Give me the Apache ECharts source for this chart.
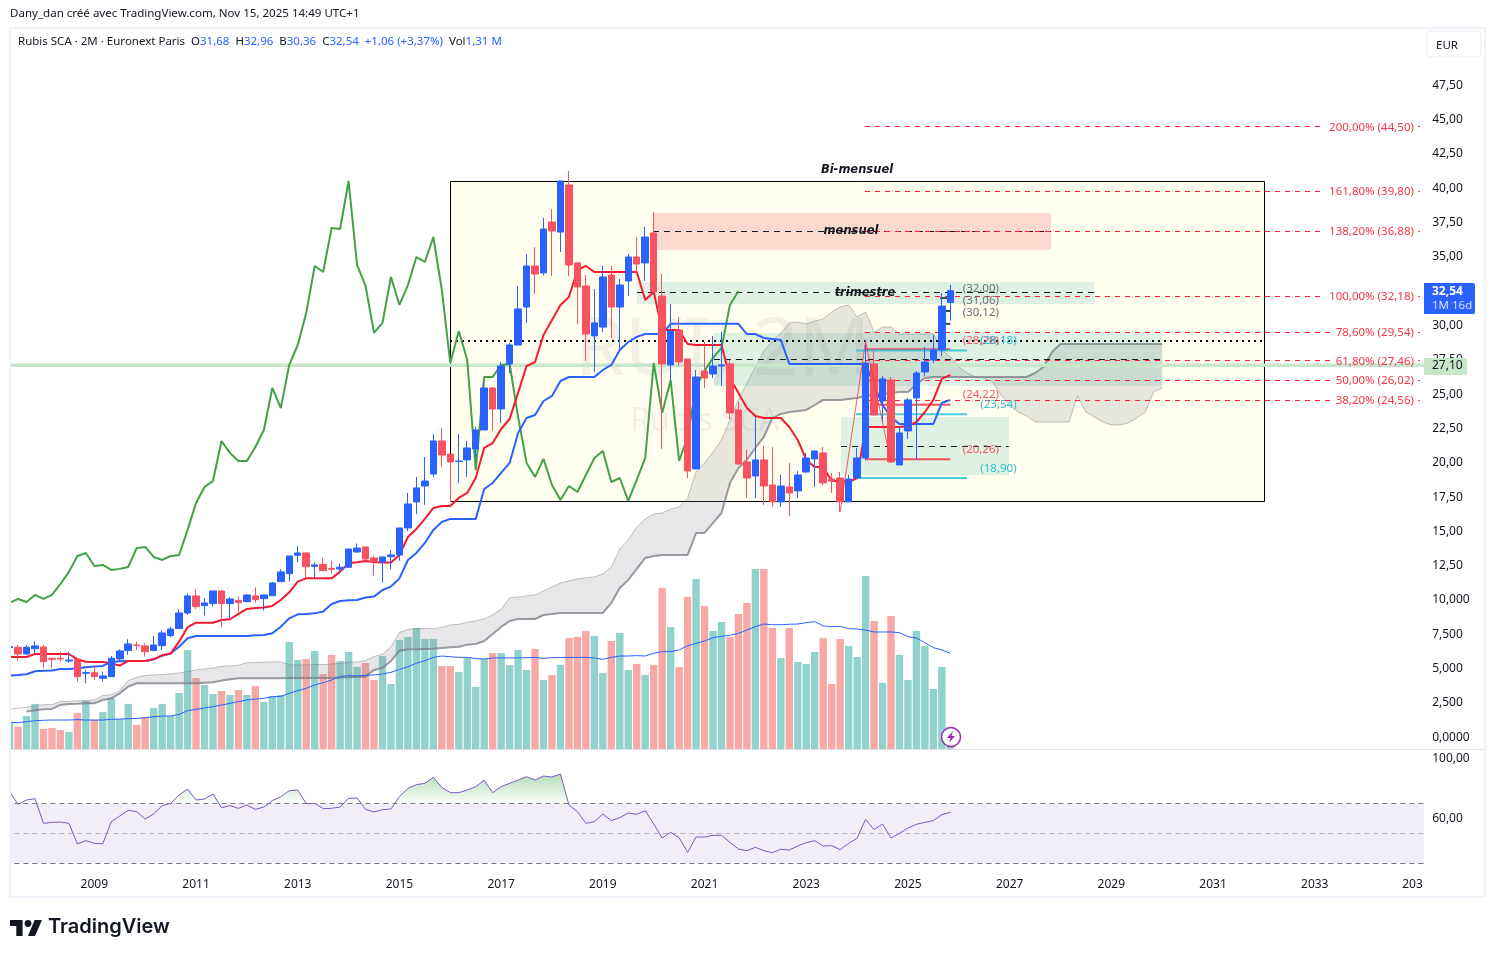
<!DOCTYPE html>
<html><head><meta charset="utf-8">
<style>html,body{margin:0;padding:0;background:#fff}#c{width:1495px;height:958px}</style>
<script src="https://cdn.jsdelivr.net/npm/echarts@6/dist/echarts.min.js"></script>
</head><body><div id="c"></div>
<script>
// ---------- DATA: two-month bars from 2007-05 to 2025-11 ----------
// [open, close, low, high]
const candles = [
[6.53,6.61,6.32,6.85],[6.56,6.07,5.59,6.73],[6.07,6.56,6.00,6.73],[6.46,6.66,6.07,7.00],[6.58,5.51,5.03,6.73],
[5.76,5.68,5.03,5.76],[5.76,5.71,5.51,6.24],[5.56,5.63,5.44,6.24],[5.68,4.42,4.06,5.68],[4.66,4.71,3.94,4.91],
[4.71,4.42,4.18,5.20],[4.30,4.47,4.06,4.79],[4.42,5.76,4.42,5.93],[5.71,6.29,5.51,6.41],[6.32,6.80,6.00,7.14],
[6.73,6.68,6.36,6.97],[6.66,6.24,5.88,6.85],[6.32,6.73,6.32,7.38],[6.68,7.60,6.36,7.82],[7.41,7.89,7.29,8.06],
[7.92,9.06,7.92,9.33],[9.06,10.30,8.91,10.49],[10.30,9.52,9.33,10.78],[9.59,9.79,8.87,10.13],[9.74,10.66,9.52,10.66],
[10.66,9.74,8.02,10.73],[9.74,10.08,8.67,10.20],[9.98,9.81,9.16,10.25],[9.88,10.37,9.84,10.44],[10.30,10.03,9.81,10.93],
[10.10,10.37,9.23,10.37],[10.32,11.24,10.32,11.32],[11.34,12.05,11.34,12.24],[11.92,13.21,11.34,13.21],[13.26,13.43,12.75,13.94],
[13.43,12.43,11.63,13.43],[12.46,12.56,11.58,12.75],[12.60,12.14,12.14,13.07],[12.31,12.24,11.95,12.85],[12.26,12.39,11.95,12.68],
[12.39,13.72,12.39,13.72],[13.50,13.79,13.45,14.13],[13.87,12.99,12.87,13.87],[13.07,12.82,11.78,13.21],[12.77,13.14,11.27,13.14],
[13.16,13.28,12.24,13.65],[13.28,15.25,12.87,15.25],[15.25,17.00,15.03,17.80],[17.15,18.17,16.27,18.97],[18.31,18.67,16.93,20.42],
[19.18,21.59,18.97,22.10],[21.59,20.57,19.70,22.54],[20.64,20.06,17.15,20.64],[20.10,20.13,18.53,22.10],[20.21,21.08,18.97,21.59],
[21.01,22.39,20.42,22.61],[22.39,25.45,22.39,25.81],[25.45,23.92,22.32,25.52],[23.92,27.05,22.90,27.34],[27.20,28.58,26.54,28.73],
[28.58,31.21,28.58,32.88],[31.35,34.34,30.19,35.21],[34.34,33.75,32.30,35.72],[33.83,37.03,33.68,37.83],[37.54,36.89,33.61,38.49],
[36.81,40.53,35.36,40.53],[40.24,34.41,33.61,41.26],[34.56,32.81,30.12,34.63],[32.88,29.38,27.42,33.68],[29.24,30.19,26.62,32.66],
[29.89,33.54,29.53,34.34],[33.68,31.35,29.09,34.34],[31.35,32.95,28.22,33.39],[33.24,34.99,32.15,35.21],[34.99,34.48,33.83,36.45],
[34.56,36.45,33.24,37.18],[36.74,32.44,32.44,38.27],[32.15,27.20,21.01,33.75],[27.13,29.60,26.03,31.57],[29.67,27.34,27.05,30.62],
[27.56,19.40,18.89,27.56],[19.55,26.25,19.55,26.76],[26.69,26.18,25.45,28.80],[26.47,27.05,26.18,29.24],[27.05,27.13,25.60,29.53],
[27.20,23.63,23.19,27.49],[23.85,19.91,19.91,24.43],[20.06,18.89,17.44,20.93],[19.04,20.21,17.44,23.34],[20.21,18.31,16.93,21.23],
[18.38,17.15,16.78,21.15],[17.15,18.31,16.78,19.11],[18.24,17.80,16.12,19.99],[17.95,19.11,17.44,19.40],[19.33,20.35,19.26,20.72],
[20.28,20.86,18.24,20.86],[20.72,18.53,18.38,21.15],[18.82,18.67,17.80,19.26],[18.89,17.15,16.42,19.33],[17.15,18.82,17.15,19.11],
[18.89,20.35,18.89,21.08],[20.35,27.27,20.21,28.95],[27.20,23.48,23.48,28.22],[24.50,26.11,22.97,26.32],[26.03,20.06,20.06,26.25],
[19.84,22.17,19.84,22.61],[22.32,24.58,21.73,24.72],[24.72,26.54,20.21,26.69],[26.62,27.34,26.32,28.44],[27.49,28.22,27.27,29.31],
[28.22,31.42,27.78,32.37],[31.68,32.54,30.36,32.96]];

const volumes = [1.94,1.63,2.40,3.28,1.46,1.53,1.38,1.24,2.62,3.49,2.11,2.69,3.71,2.18,3.28,1.75,2.33,2.99,3.28,2.40,
4.08,7.21,5.17,4.66,4.00,4.22,3.93,4.30,3.93,4.59,3.42,3.86,3.93,7.79,6.48,6.55,7.14,5.46,6.84,6.41,
7.06,5.97,6.26,5.02,6.77,4.73,7.94,8.15,8.81,8.01,8.01,6.04,6.04,5.61,6.63,4.51,6.55,6.99,6.99,6.12,
7.21,5.75,7.28,5.02,5.39,6.12,8.08,8.15,8.59,8.23,5.53,7.86,8.45,5.75,6.19,5.39,6.12,11.72,8.88,5.97,
11.07,12.38,10.41,8.59,9.25,8.15,9.83,10.63,13.11,13.11,8.81,6.63,8.81,6.33,6.19,7.06,8.08,4.73,8.01,7.50,
6.70,12.60,9.32,4.81,9.68,6.84,5.02,8.59,7.50,4.37,5.97,1.31];
const volumeDownBars = [1,4,5,6,8,10,15,16,22,25,27,29,35,37,38,42,43,51,52,57,62,64,66,67,68,71,74,76,77,79,80,82,85,86,87,89,90,92,96,97,98,102,104];

const volumeMA = [1.94,1.92,1.99,2.06,2.09,2.11,2.11,2.11,2.14,2.11,2.11,2.11,2.16,2.18,2.21,2.23,2.28,2.35,2.40,2.40,
2.52,2.79,2.89,2.99,3.08,3.20,3.32,3.45,3.57,3.64,3.69,3.81,3.83,4.05,4.25,4.42,4.66,4.83,5.02,5.27,
5.34,5.32,5.36,5.39,5.46,5.58,5.80,5.99,6.24,6.43,6.67,6.77,6.72,6.67,6.67,6.58,6.55,6.63,6.63,6.63,
6.63,6.65,6.67,6.60,6.65,6.67,6.67,6.67,6.67,6.63,6.53,6.67,6.77,6.77,6.80,6.77,6.97,7.09,7.09,7.21,
7.52,7.69,7.86,8.11,8.20,8.28,8.42,8.66,8.91,9.10,9.05,9.05,9.08,9.10,9.20,9.27,8.96,8.91,8.93,8.76,
8.74,8.66,8.52,8.52,8.52,8.47,8.18,8.08,7.74,7.38,7.21,6.97];

const redLine = [5.85,5.85,5.85,6.07,6.07,6.07,6.07,6.07,5.68,5.51,5.49,5.49,5.39,5.22,5.56,5.56,5.56,5.68,5.98,6.10,
6.97,8.02,8.35,8.35,8.35,8.55,8.60,8.99,9.35,9.42,9.45,9.57,10.00,10.56,11.34,11.58,11.58,11.58,11.58,12.07,
12.68,12.75,12.85,12.77,12.73,12.73,13.28,14.59,15.18,15.91,16.71,16.85,16.85,17.44,17.80,18.89,21.08,21.44,22.46,23.19,
25.09,27.05,27.34,29.31,30.40,31.50,32.08,34.05,34.34,33.90,33.90,33.90,33.90,33.90,33.90,31.86,32.44,29.67,29.67,29.67,
28.66,28.58,28.58,28.58,28.58,26.18,25.09,23.99,23.41,23.26,23.26,23.26,22.61,21.66,20.21,19.70,19.70,18.67,18.67,18.60,
18.89,22.61,22.61,22.61,22.61,22.61,22.68,22.97,23.70,24.58,26.11,26.40];

const blueLine = [4.50,4.54,4.59,4.81,4.84,4.86,4.98,4.98,5.03,5.10,5.15,5.20,5.49,5.54,5.56,5.56,5.56,5.68,5.93,6.10,
6.60,7.21,7.38,7.38,7.38,7.38,7.38,7.38,7.38,7.43,7.46,7.58,8.06,8.67,8.96,8.99,9.03,9.16,9.71,9.93,
9.98,10.00,10.18,10.25,10.73,10.98,11.58,12.92,13.43,14.16,15.11,15.69,15.91,15.91,15.91,15.91,18.09,18.53,19.26,19.99,
22.17,23.26,23.48,24.50,24.87,25.96,26.25,26.25,26.25,26.25,26.76,27.13,28.22,28.80,29.17,29.38,29.38,29.38,30.12,30.12,
30.12,30.12,30.12,30.12,30.12,30.12,30.12,29.38,29.38,29.09,29.02,28.95,27.20,27.20,27.20,27.20,27.20,27.20,27.20,27.20,
27.20,27.20,25.67,24.21,23.34,22.83,22.83,22.83,22.83,22.83,24.36,24.58];

const greenLine = [9.79,10.08,9.86,10.37,10.08,10.37,11.17,12.05,13.21,13.43,12.48,12.56,12.19,12.27,12.41,13.79,13.87,13.14,12.92,13.21,
13.28,15.11,17.07,18.24,18.67,21.59,20.72,20.13,20.13,21.15,22.39,25.45,23.99,27.13,28.58,30.91,34.34,33.90,37.11,37.03,
40.53,34.41,32.88,29.46,30.19,33.54,31.50,32.95,34.99,34.63,36.45,32.59,27.27,29.60,27.49,19.47,26.25,26.25,27.13,27.20,
23.34,19.99,18.97,20.28,18.38,17.29,18.31,17.87,19.11,20.35,20.86,18.60,18.89,17.22,18.75,20.35,27.27,23.63,26.03,20.13,
21.88,25.52,26.69,27.64,28.37,31.50,32.52];

const spanA = [2.04,2.12,2.19,2.29,2.38,2.38,2.60,2.62,2.67,2.67,2.72,3.04,3.09,3.40,4.13,4.37,4.50,4.54,4.57,4.62,
4.69,4.79,4.91,4.98,5.05,5.17,5.20,5.25,5.44,5.44,5.47,5.49,5.51,5.27,5.27,5.27,5.30,5.30,5.34,5.39,
5.49,5.49,5.59,5.88,6.07,6.60,7.63,7.87,7.92,7.92,7.92,7.99,8.19,8.23,8.38,8.48,8.62,8.91,9.35,10.15,
10.22,10.30,10.37,10.66,10.95,11.24,11.39,11.54,11.61,11.68,11.90,12.41,13.72,14.38,15.32,15.91,16.27,16.34,16.63,16.78,
17.44,19.33,19.99,20.79,21.66,23.12,24.58,25.81,26.98,28.15,28.87,29.46,30.19,30.26,30.11,30.33,30.48,30.99,31.35,31.50,
30.62,30.99,29.53,29.89,29.89,29.38,29.38,29.38,29.38,29.38,28.22,27.71,26.98,26.54,26.25,26.18,25.89,24.94,24.21,23.70,
23.41,22.97,22.97,22.97,22.97,22.97,24.87,23.70,23.34,22.97,22.76,22.76,22.90,23.26,23.70,25.16,25.45];

const spanB = [null,null,1.87,1.97,2.04,2.07,2.36,2.43,2.45,2.48,2.48,2.72,2.84,3.20,3.69,3.94,3.94,3.94,3.94,3.94,
3.94,3.94,3.94,3.98,4.01,4.13,4.23,4.30,4.30,4.30,4.30,4.30,4.30,4.32,4.32,4.32,4.32,4.32,4.32,4.35,
4.37,4.40,4.42,4.91,5.05,5.56,6.31,6.41,6.41,6.44,6.46,6.51,6.56,6.60,6.75,6.80,7.02,7.53,8.04,8.47,
8.62,8.62,8.62,8.91,8.99,9.06,9.06,9.06,9.06,9.06,9.06,9.79,10.88,11.47,12.27,13.07,13.21,13.28,13.28,13.28,
13.28,14.89,14.89,15.62,16.34,18.53,19.62,20.21,21.08,21.88,23.26,23.56,23.70,23.77,23.85,24.21,24.58,24.58,24.58,24.65,
24.72,24.87,24.94,25.01,25.09,25.16,25.16,25.74,26.18,26.25,26.25,26.25,26.25,26.25,26.25,26.25,26.25,26.25,26.25,26.25,
26.25,26.54,26.98,28.07,28.66,28.66,28.66,28.66,28.66,28.66,28.66,28.66,28.66,28.66,28.66,28.66,28.66];

const rsi = [77.75,69.31,72.20,73.09,56.64,57.31,57.53,56.64,42.86,45.09,43.31,43.09,57.75,61.53,65.31,64.42,59.53,62.86,68.42,69.97,
75.53,79.53,72.20,72.86,76.20,67.09,68.42,66.64,68.86,65.97,67.53,71.75,74.42,78.42,78.86,69.75,69.97,66.42,66.64,67.53,
73.31,73.53,65.97,64.20,65.75,66.20,74.42,79.97,82.42,83.31,87.31,80.64,77.09,77.09,78.86,81.09,85.31,77.09,81.09,83.31,
85.53,87.75,85.53,88.20,87.53,89.53,68.86,64.42,56.64,57.75,62.86,58.42,60.42,63.53,62.64,65.09,56.20,46.86,50.64,47.09,
37.31,47.53,47.53,48.64,48.64,43.97,39.53,38.42,40.64,38.42,37.09,39.31,38.86,41.53,43.75,45.09,41.53,41.75,39.09,43.31,
46.64,59.31,52.42,56.20,46.86,49.97,53.53,55.97,57.31,58.42,62.42,63.97];

const tickYears = [2009,2011,2013,2015,2017,2019,2021,2023,2025,2027,2029,2031,2033,2035];
const fibPercents = ['200,00%','161,80%','138,20%','100,00%','78,60%','61,80%','50,00%','38,20%'];
const fibPrices = [44.50,39.80,36.88,32.18,29.54,27.46,26.02,24.56];
const fibLabelEnd = [154.86,154.86,154.86,154.86,156.03,156.03,156.03,156.03];
const fibTrend = [[98,16.42],[101,28.82],[104,20.0]];

// zones in [bar index from, bar index to, price top, price bottom]
const zones = [[51.97,148.01,40.53,17.22],[75.92,122.88,38.2,35.5],[74.03,128.0,33.17,31.57],[83.1,136,29.46,25.6],[98.1,117.9,23.33,19.11]];
const zoneFill = ['#fffeef','#fcd9cf','rgba(38,166,154,0.15)','rgba(38,166,154,0.15)','rgba(38,166,154,0.15)'];
// levels in [bar index from, bar index to, price, style]
const levels = [
[-1,168,27.10,0],[51.97,148.01,28.87,1],[74.03,128.0,32.43,2],[75.92,122.88,36.87,2],[83.1,136,27.54,2],[98.1,117.9,21.22,2],
[100.93,111,28.28,3],[102.1,111,24.22,3],[100.93,111,20.26,3],
[99.88,112.97,28.18,4],[99.88,112.97,23.54,4],[99.88,112.97,18.90,4],
[109.8,111,32.00,5],[109.8,111,31.06,5],[109.8,111,30.12,5]];
// notes in [bar index, price, text, style]
const notes = [
[99.99,41.40,'Bi-mensuel',0],[99.28,36.96,'mensuel',0],[100.93,32.44,'trimestre',0],
[114.6,32.81,'(32,00)',1],[114.6,31.9,'(31,06)',1],[114.6,31.02,'(30,12)',1],
[114.6,29.02,'(28,28)',2],[114.6,25.08,'(24,22)',2],[114.6,21.08,'(20,26)',2],
[116.68,29.02,'(28,18)',3],[116.68,24.36,'(23,54)',3],[116.68,19.69,'(18,90)',3]];

// ---------- SCALE SET-UP ----------
const barDates = [];
for (let y = 2007, m = 5; barDates.length < 168; ) { barDates.push(y + '-' + String(m).padStart(2,'0')); m += 2; if (m > 12) { m = 1; y++; } }
const FONT = '"Noto Sans", sans-serif';
const GRID_L = 5.36, GRID_W = 1423.8;
const comma = (v, d) => v.toFixed(d).replace('.', ',');
const snap = v => Math.round(v) + 0.5;
const noteStyles = [
 {font:'italic bold 11.5px "DejaVu Sans"',fill:'#131722'},
 {font:'11.5px '+FONT,fill:'#6b6f7a'},
 {font:'11.5px '+FONT,fill:'#ef5a66'},
 {font:'11.5px '+FONT,fill:'#2fbdd1'}];
const levelStyles = [
 {stroke:'#c8e6c9',lineWidth:3.5},
 {stroke:'#000',lineWidth:2,lineDash:[2,4]},
 {stroke:'#131722',lineWidth:1,lineDash:[6,5]},
 {stroke:'rgba(242,54,69,0.85)',lineWidth:2},
 {stroke:'rgba(38,198,218,0.85)',lineWidth:2},
 {stroke:'#444',lineWidth:2}];

const chart = echarts.init(document.getElementById('c'), null, {renderer:'canvas', width:1495, height:958});

const lineS = (name, data, color, width, z, x, y) => ({
  name, type:'line', data, xAxisIndex:x||0, yAxisIndex:y||0, showSymbol:false, symbol:'none', z, silent:true,
  lineStyle:{color, width}, clip:true, connectNulls:false
});
const option = {
  animation:false, backgroundColor:'#fff',
  title:[
    {text:'Dany_dan créé avec TradingView.com, Nov 15, 2025 14:49 UTC+1', left:10, top:8, padding:0,
     textStyle:{fontFamily:FONT,fontSize:11.55,fontWeight:'normal',color:'#131722'}},
    {text:'Rubis SCA · 2M · Euronext Paris  O{b|31,68}  H{b|32,96}  B{b|30,36}  C{b|32,54}  {b|+1,06 (+3,37%)}  Vol{b|1,31 M}', left:18, top:36, padding:0,
     textStyle:{fontFamily:FONT,fontSize:11.5,fontWeight:'normal',color:'#131722',
       rich:{b:{color:'#2962ff',fontFamily:FONT,fontSize:11.5}}}}
  ],
  grid:[
    {left:GRID_L,width:GRID_W,top:51,height:686.3},
    {left:GRID_L,width:GRID_W,top:556.7,height:192.3},
    {left:GRID_L,width:GRID_W,top:750.8,height:127.5}
  ],
  xAxis:[
    {type:'category',gridIndex:0,data:barDates,show:false},
    {type:'category',gridIndex:1,data:barDates,show:false},
    {type:'category',gridIndex:2,data:barDates,axisLine:{show:false},axisTick:{show:false},
     axisLabel:{color:'#131722',fontFamily:FONT,fontSize:12,margin:0,
       interval:(i,v)=>tickYears.some(y=>v===y+'-01'),
       formatter:v=>{const y=v.slice(0,4); return y==='2035'?'{c|203}':y;},
       rich:{c:{padding:[0,8,0,0],color:'#131722',fontFamily:FONT,fontSize:12}}}},
    {type:'value',gridIndex:0,min:-0.5,max:167.5,show:false}
  ],
  yAxis:[
    {type:'value',gridIndex:0,position:'right',min:0,max:50,interval:2.5,splitLine:{show:false},axisLine:{show:false},axisTick:{show:false},
     axisLabel:{color:'#131722',fontFamily:FONT,fontSize:12,margin:3,align:'left',padding:[2,0,0,0],
       formatter:v=>v===50?'':v===0?'0,0000':v<=10?comma(v,3):comma(v,2)}},
    {type:'value',gridIndex:1,min:0,max:14,show:false},
    {type:'value',gridIndex:2,position:'right',min:20,max:105,interval:20,splitLine:{show:false},axisLine:{show:false},axisTick:{show:false},
     axisLabel:{color:'#131722',fontFamily:FONT,fontSize:12,margin:3,align:'left',
       formatter:v=>(v===100||v===60)?comma(v,2):''}}
  ],
  series:[
    // zones
    {type:'custom',xAxisIndex:3,yAxisIndex:0,z:0,silent:true,data:zones,encode:{x:[0,1],y:[2,3]},
     renderItem:(p,api)=>{
       const a=api.coord([api.value(0),api.value(2)]),b=api.coord([api.value(1),api.value(3)]);
       const first=p.dataIndex===0;
       const x0=first?snap(a[0]):a[0],y0=first?snap(a[1]):a[1],x1=first?snap(b[0]):b[0],y1=first?snap(b[1]):b[1];
       return {type:'rect',shape:{x:x0,y:y0,width:x1-x0,height:y1-y0},
         style:{fill:zoneFill[p.dataIndex],stroke:first?'#000':null,lineWidth:first?1:0}};
     }},
    // volume
    {type:'bar',xAxisIndex:1,yAxisIndex:1,data:volumes,barWidth:7.4,z:1,silent:true,
     itemStyle:{color:p=>volumeDownBars.includes(p.dataIndex)?'#f7a9a7':'#92d2cc'}},
    lineS('Vol MA',volumeMA,'#2962ff',1,3,1,1),
    // cloud fill
    {type:'custom',xAxisIndex:3,yAxisIndex:0,z:2,silent:true,data:[[0,0]],encode:{x:0,y:1},
     renderItem:(p,api)=>{
       const pts=[];
       spanA.forEach((v,i)=>pts.push(api.coord([i,v])));
       for(let i=spanB.length-1;i>=2;i--) pts.push(api.coord([i,spanB[i]]));
       pts.push(api.coord([2,spanA[2]]));
       return {type:'polygon',shape:{points:pts},style:{fill:'rgba(120,123,134,0.18)'}};
     }},
    lineS('Span A',spanA,'rgba(120,123,134,0.45)',1,2),
    lineS('Span B',spanB,'rgba(120,123,134,0.75)',2,2),
    // levels and fibonacci
    {type:'custom',xAxisIndex:3,yAxisIndex:0,z:3,silent:true,data:levels,encode:{x:[0,1],y:2},
     renderItem:(p,api)=>{
       const a=api.coord([api.value(0),api.value(2)]),b=api.coord([api.value(1),api.value(2)]);
       const st=levels[p.dataIndex][3],y=st===2?snap(a[1]):a[1];
       return {type:'line',shape:{x1:a[0],y1:y,x2:b[0],y2:y},style:levelStyles[st]};
     }},
    {type:'custom',xAxisIndex:3,yAxisIndex:0,z:3,silent:true,data:fibPrices.map((v,i)=>[100.93,v,fibLabelEnd[i]]),encode:{x:0,y:1},
     renderItem:(p,api)=>{
       const i=p.dataIndex,a=api.coord([api.value(0),api.value(1)]),b=api.coord([fibLabelEnd[i],api.value(1)]);
       const t=api.coord([165.7,api.value(1)]),d1=api.coord([166.2,api.value(1)]),d2=api.coord([166.4,api.value(1)]);
       const y=snap(a[1]);
       const ln={stroke:'#ff1a35',lineWidth:1,lineDash:[5,5]};
       return {type:'group',children:[
         {type:'line',shape:{x1:a[0],y1:y,x2:b[0],y2:y},style:ln},
         {type:'line',shape:{x1:d1[0],y1:y,x2:d2[0],y2:y},style:{stroke:'#ff1a35',lineWidth:1}},
         {type:'text',style:{text:fibPercents[i]+' ('+comma(fibPrices[i],2)+')',x:t[0],y:t[1]+1,align:'right',verticalAlign:'middle',font:'11.5px '+FONT,fill:'#f23645'}}
       ]};
     }},
    {type:'line',xAxisIndex:3,yAxisIndex:0,data:fibTrend,showSymbol:false,symbol:'none',z:6,silent:true,lineStyle:{color:'rgba(242,54,69,0.8)',width:1}},
    // lines
    lineS('Lagging',greenLine,'#43a047',2,3),
    lineS('Blue',blueLine,'#2962ff',2,3),
    lineS('Red',redLine,'#f7192f',2,3),
    // candles
    {type:'candlestick',xAxisIndex:0,yAxisIndex:0,data:candles,barWidth:7,z:4,silent:true,
     itemStyle:{color:'#2962ff',color0:'#f7525f',borderColor:'#2962ff',borderColor0:'#f7525f',borderWidth:1}},
    // notes
    {type:'custom',xAxisIndex:3,yAxisIndex:0,z:5,silent:true,data:notes.map(n=>[n[0],n[1]]),encode:{x:0,y:1},
     renderItem:(p,api)=>{
       const n=notes[p.dataIndex],a=api.coord([n[0],n[1]]),s=noteStyles[n[3]];
       return {type:'text',style:{text:n[2],x:a[0],y:a[1]+1.3,align:'center',verticalAlign:'middle',font:s.font,fill:s.fill}};
     }},
    // RSI
    {type:'line',name:'RSI fill',xAxisIndex:2,yAxisIndex:2,data:rsi.map(v=>Math.max(v,70)),showSymbol:false,symbol:'none',silent:true,z:2,
     lineStyle:{width:0},
     areaStyle:{origin:70,color:{type:'linear',x:0,y:0,x2:0,y2:1,colorStops:[{offset:0,color:'rgba(76,175,80,0.6)'},{offset:1,color:'rgba(76,175,80,0.03)'}]}}},
    Object.assign(lineS('RSI',rsi,'#7e57c2',1,3,2,2),{
      markArea:{silent:true,itemStyle:{color:'rgba(126,87,194,0.1)'},data:[[{yAxis:70},{yAxis:30}]]},
      markLine:{silent:true,symbol:'none',label:{show:false},animation:false,
        lineStyle:{color:'#787b86',type:[5,4],width:1},
        data:[{yAxis:70},{yAxis:30},{yAxis:50,lineStyle:{color:'rgba(120,123,134,0.5)',type:[5,4],width:1}}]}
    })
  ],
  graphic:[
    // watermark
    {type:'text',silent:true,z:1,x:575,y:312,style:{text:'RUI, 2M',font:'80px '+FONT,fill:'rgba(19,23,34,0.06)'}},
    {type:'text',silent:true,z:1,x:630,y:406,style:{text:'Rubis SCA',font:'32px '+FONT,fill:'rgba(19,23,34,0.06)'}},
    // covers outside the pane
    {type:'rect',silent:true,z:10,shape:{x:0,y:0,width:9,height:958},style:{fill:'#fff'}},
    {type:'rect',silent:true,z:10,shape:{x:1424,y:50,width:6,height:830},style:{fill:'#fff'}},
    // frame
    {type:'rect',silent:true,z:11,shape:{x:10,y:28,width:1475,height:869},style:{fill:null,stroke:'#f0f3fa',lineWidth:2}},
    {type:'line',silent:true,z:11,shape:{x1:10,y1:749.5,x2:1485,y2:749.5},style:{stroke:'#e0e3eb',lineWidth:1}},
    // currency button
    {type:'rect',silent:true,z:11,shape:{x:1427,y:31,width:54,height:26,r:4},style:{fill:'#fff',stroke:'#f0f3fa',lineWidth:1.5}},
    {type:'text',silent:true,z:12,x:1436,y:39.5,style:{text:'EUR',font:'11.5px '+FONT,fill:'#131722'}},
    // price tags
    {type:'rect',silent:true,z:20,shape:{x:1424,y:283,width:51,height:31,r:[0,2,2,0]},style:{fill:'#2962ff'}},
    {type:'text',silent:true,z:21,x:1432,y:286,style:{text:'32,54',font:'bold 12px '+FONT,fill:'#fff'}},
    {type:'text',silent:true,z:21,x:1432,y:300,style:{text:'1M 16d',font:'11.5px '+FONT,fill:'rgba(255,255,255,0.8)'}},
    {type:'rect',silent:true,z:20,shape:{x:1424,y:358,width:43,height:17,r:[0,2,2,0]},style:{fill:'#c8e6c9'}},
    {type:'text',silent:true,z:21,x:1432,y:360,style:{text:'27,10',font:'12px '+FONT,fill:'#131722'}},
    // bolt badge
    {type:'circle',silent:true,z:20,shape:{cx:951,cy:737,r:9.5},style:{fill:'#fff',stroke:'#9c27b0',lineWidth:1.5}},
    {type:'polygon',silent:true,z:21,shape:{points:[[953,731],[947,738],[950.5,738],[949,743],[955,736],[951.5,736]]},style:{fill:'#9c27b0'}},
    // logo
    {type:'polygon',silent:true,z:20,shape:{points:[[22.6,936],[16.3,936],[16.3,926],[10,926],[10,920],[22.6,920]]},style:{fill:'#131722'}},
    {type:'polygon',silent:true,z:20,shape:{points:[[35,936],[28,936],[34.6,920],[42,920]]},style:{fill:'#131722'}},
    {type:'circle',silent:true,z:20,shape:{cx:28,cy:923.5,r:3.4},style:{fill:'#131722'}},
    {type:'text',silent:true,z:20,x:48,y:917,style:{text:'TradingView',font:'600 20px Inter, '+FONT,fill:'#131722'}}
  ]
};
chart.setOption(option);
</script></body></html>
